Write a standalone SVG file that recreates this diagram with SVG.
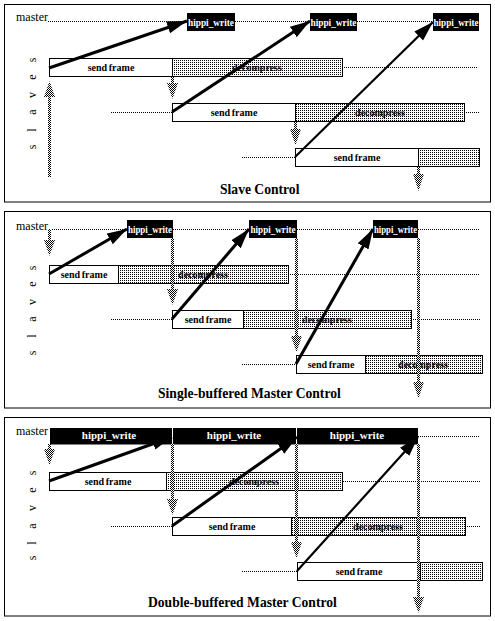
<svg xmlns="http://www.w3.org/2000/svg" width="495" height="621" viewBox="0 0 495 621">
<style>
  .panel{fill:#fff;stroke:#000;stroke-width:1}
  .lbl{font-family:"Liberation Serif",serif;font-size:12px;fill:#000}
  .sl{font-family:"Liberation Serif",serif;font-size:12px;fill:#000}
  .title{font-family:"Liberation Serif",serif;font-size:13.6px;font-weight:bold;fill:#000}
  .hb{fill:#000}
  .ht{font-family:"Liberation Serif",serif;font-size:10.5px;font-weight:bold;fill:#fff;text-anchor:middle}
  .ht2{font-family:"Liberation Serif",serif;font-size:11px;font-weight:bold;fill:#fff;text-anchor:middle}
  .sf{fill:#fff;stroke:#000;stroke-width:1}
  .dc{fill:url(#dots);stroke:#000;stroke-width:1}
  .bt{font-family:"Liberation Serif",serif;font-size:10px;font-weight:bold;fill:#000;text-anchor:middle;word-spacing:-0.8px}
  .dot{stroke:#000;stroke-width:1;stroke-dasharray:1 1;fill:none}
  .arr{stroke:#000;stroke-width:3;fill:none;marker-end:url(#ah)}
  .arr2{stroke:#000;stroke-width:2.2;fill:none;marker-end:url(#ah)}
  .ga{fill:url(#checker);stroke:none}
</style>
<defs>
  <pattern id="dots" width="2" height="2" patternUnits="userSpaceOnUse">
    <rect width="2" height="2" fill="#fff"/><rect width="1" height="1" fill="#000"/>
  </pattern>
  <pattern id="checker" width="2" height="2" patternUnits="userSpaceOnUse">
    <rect width="2" height="2" fill="#fff"/><rect width="1" height="1" fill="#000"/><rect x="1" y="1" width="1" height="1" fill="#000"/>
  </pattern>
  <marker id="ah" markerUnits="userSpaceOnUse" markerWidth="22" markerHeight="14" refX="20" refY="6.5" orient="auto">
    <path d="M0,0.3 L20,6.5 L0,12.7 z" fill="#000"/>
  </marker>
</defs>
<rect width="495" height="621" fill="#fff"/>

<!-- panels -->
<g id="panel-slave"><rect class="panel" x="4.5" y="4.5" width="486" height="197.5"/></g>
<g id="panel-single"><rect class="panel" x="4.5" y="211.5" width="486" height="196.5"/></g>
<g id="panel-double"><rect class="panel" x="4.5" y="417.5" width="486" height="198.5"/></g>

<!-- ===== Panel 1: Slave Control ===== -->
<g id="p1-master"><text class="lbl" x="16" y="21">master</text></g>
<g id="p1-slaves"><text class="sl" transform="rotate(-90)" y="35.5" x="-147 -130 -112 -95 -77 -60" text-anchor="middle">slaves</text></g>
<g id="p1-hw1"><rect class="hb" x="187" y="13" width="48" height="18"/><text class="ht" x="211" y="25.5" textLength="46" lengthAdjust="spacingAndGlyphs">hippi_write</text></g>
<g id="p1-hw2"><rect class="hb" x="310" y="13" width="47" height="18"/><text class="ht" x="333.5" y="25.5" textLength="46" lengthAdjust="spacingAndGlyphs">hippi_write</text></g>
<g id="p1-hw3"><rect class="hb" x="433" y="13" width="46" height="18"/><text class="ht" x="456" y="25.5" textLength="45" lengthAdjust="spacingAndGlyphs">hippi_write</text></g>
<g id="p1-sf1"><rect class="sf" x="49.5" y="58.5" width="123" height="18"/><text class="bt" x="111" y="71">send frame</text></g>
<g id="p1-dc1"><rect class="dc" x="172.5" y="58.5" width="170" height="18"/><text class="bt" x="257" y="71">decompress</text></g>
<g id="p1-sf2"><rect class="sf" x="172.5" y="103.5" width="123" height="18"/><text class="bt" x="234" y="116">send frame</text></g>
<g id="p1-dc2"><rect class="dc" x="295.5" y="103.5" width="169" height="18"/><text class="bt" x="380" y="116">decompress</text></g>
<g id="p1-sf3"><rect class="sf" x="295.5" y="148.5" width="123" height="18"/><text class="bt" x="357" y="161">send frame</text></g>
<g id="p1-dc3"><rect class="dc" x="418.5" y="148.5" width="61" height="18"/></g>
<g id="p1-title"><text class="title" x="220" y="194">Slave Control</text></g>

<!-- ===== Panel 2: Single-buffered ===== -->
<g id="p2-master"><text class="lbl" x="16" y="230">master</text></g>
<g id="p2-slaves"><text class="sl" transform="rotate(-90)" y="35.5" x="-353 -336 -319 -302 -284 -268" text-anchor="middle">slaves</text></g>
<g id="p2-hw1"><rect class="hb" x="127" y="220" width="46" height="18"/><text class="ht" x="150" y="233" textLength="44" lengthAdjust="spacingAndGlyphs">hippi_write</text></g>
<g id="p2-hw2"><rect class="hb" x="249" y="220" width="48" height="18"/><text class="ht" x="273" y="233" textLength="45" lengthAdjust="spacingAndGlyphs">hippi_write</text></g>
<g id="p2-hw3"><rect class="hb" x="373" y="220" width="45" height="18"/><text class="ht" x="395.5" y="233" textLength="43" lengthAdjust="spacingAndGlyphs">hippi_write</text></g>
<g id="p2-sf1"><rect class="sf" x="49.5" y="265.5" width="69" height="18"/><text class="bt" x="84" y="278">send frame</text></g>
<g id="p2-dc1"><rect class="dc" x="118.5" y="265.5" width="170" height="18"/><text class="bt" x="203" y="278">decompress</text></g>
<g id="p2-sf2"><rect class="sf" x="172.5" y="310.5" width="71" height="18"/><text class="bt" x="208" y="323">send frame</text></g>
<g id="p2-dc2"><rect class="dc" x="243.5" y="310.5" width="168" height="18"/><text class="bt" x="327" y="323">decompress</text></g>
<g id="p2-sf3"><rect class="sf" x="296.5" y="355.5" width="69" height="18"/><text class="bt" x="331" y="368">send frame</text></g>
<g id="p2-dc3"><rect class="dc" x="365.5" y="355.5" width="117" height="18"/><text class="bt" x="423" y="368">decompress</text></g>
<g id="p2-title"><text class="title" x="158" y="398">Single-buffered Master Control</text></g>

<!-- ===== Panel 3: Double-buffered ===== -->
<g id="p3-master"><text class="lbl" x="16" y="435">master</text></g>
<g id="p3-slaves"><text class="sl" transform="rotate(-90)" y="35.5" x="-558 -543 -526 -508 -490 -473" text-anchor="middle">slaves</text></g>
<g id="p3-hw1"><rect class="hb" x="50" y="428" width="122" height="16.5"/><text class="ht2" x="109" y="439">hippi_write</text></g>
<g id="p3-hw2"><rect class="hb" x="173" y="428" width="123" height="16.5"/><text class="ht2" x="234" y="439">hippi_write</text></g>
<g id="p3-hw3"><rect class="hb" x="297" y="428" width="121" height="16.5"/><text class="ht2" x="357" y="439">hippi_write</text></g>
<g id="p3-sf1"><rect class="sf" x="49.5" y="472.5" width="117" height="18"/><text class="bt" x="108" y="485">send frame</text></g>
<g id="p3-dc1"><rect class="dc" x="166.5" y="472.5" width="176" height="18"/><text class="bt" x="254" y="485">decompress</text></g>
<g id="p3-sf2"><rect class="sf" x="172.5" y="517.5" width="119" height="18"/><text class="bt" x="232" y="530">send frame</text></g>
<g id="p3-dc2"><rect class="dc" x="291.5" y="517.5" width="174" height="18"/><text class="bt" x="378" y="530">decompress</text></g>
<g id="p3-sf3"><rect class="sf" x="297.5" y="562.5" width="123" height="18"/><text class="bt" x="359" y="575">send frame</text></g>
<g id="p3-dc3"><rect class="dc" x="420.5" y="562.5" width="62" height="18"/></g>
<g id="p3-title"><text class="title" x="148" y="607">Double-buffered Master Control</text></g>

<!-- ===== connectors ===== -->
<g id="connectors">
  <!-- dotted timelines -->
  <path class="dot" d="M48,21.5H187 M235,21.5H310 M357,21.5H433 M342,67.5H478 M111,112.5H172 M464,112.5H480 M242,157.5H295"/>
  <path class="dot" d="M48,229.5H127 M173,229.5H249 M297,229.5H373 M418,229.5H480 M288,274.5H480 M111,319.5H172 M411,319.5H480 M242,364.5H296"/>
  <path class="dot" d="M418,436.5H480 M343,481.5H480 M111,526.5H172 M465,526.5H480 M242,571.5H297"/>

  <!-- gray dithered arrows -->
  <path class="ga" d="M48,177V97H44L49.5,81L55,97H51V177Z"/>
  <path class="ga" d="M171,77V83H167L172.5,99L178,83H174V77Z"/>
  <path class="ga" d="M294,122V129H290L295.5,145L301,129H297V122Z"/>
  <path class="ga" d="M417,167V174H413L418.5,191L424,174H420V167Z"/>

  <path class="ga" d="M48,229V240H44L49.5,256L55,240H51V229Z"/>
  <path class="ga" d="M171,238V289H167L172.5,305L178,289H174V238Z"/>
  <path class="ga" d="M295,238V336H291L296.5,352L302,336H298V238Z"/>
  <path class="ga" d="M417,238V382H413L418.5,398L424,382H420V238Z"/>

  <path class="ga" d="M48,444V449H44L49.5,465L55,449H51V444Z"/>
  <path class="ga" d="M171,444V499H167L172.5,515L178,499H174V444Z"/>
  <path class="ga" d="M295,444V542H291L296.5,558L302,542H298V444Z"/>
  <path class="ga" d="M417,444V597H413L418.5,613L424,597H420V444Z"/>

  <!-- black control arrows -->
  <line class="arr" x1="49" y1="68" x2="187" y2="21"/>
  <line class="arr" x1="172" y1="112" x2="310" y2="21"/>
  <line class="arr2" x1="295" y1="157" x2="433" y2="22"/>

  <line class="arr" x1="49" y1="274" x2="127" y2="229"/>
  <line class="arr" x1="172" y1="319" x2="249" y2="229"/>
  <line class="arr" x1="296" y1="364" x2="373" y2="229"/>

  <line class="arr" x1="49" y1="481" x2="172" y2="437"/>
  <line class="arr" x1="172" y1="526" x2="297" y2="437"/>
  <line class="arr2" x1="297" y1="571" x2="418" y2="437"/>
</g>
</svg>
